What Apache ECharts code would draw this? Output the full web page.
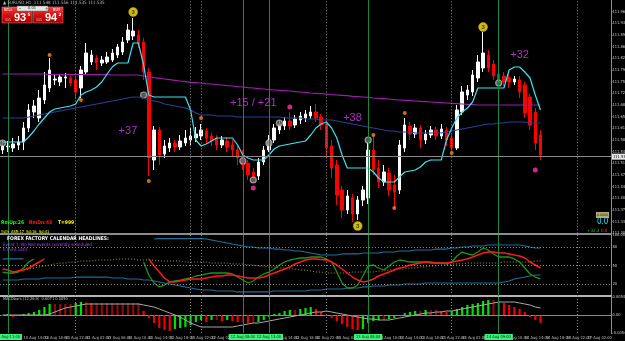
<!DOCTYPE html>
<html><head><meta charset="utf-8">
<script src="https://cdn.jsdelivr.net/npm/echarts@6/dist/echarts.min.js"></script>
<style>html,body{margin:0;padding:0;background:#000;overflow:hidden}#c{width:625px;height:341px;}</style>
</head><body><div id="c"></div>
<script>
// ---------- DATA ----------
const NSLOTS = 117;               // bar slots on the time axis (candles + right shift)
const dayNames = ['10 Aug','11 Aug','12 Aug','13 Aug','14 Aug','17 Aug'];
const firstHour = 10;             // first bar: 10 Aug 10:00 (H1)
const categories = [];
for (let i = 0; i < NSLOTS; i++) {
  const h = firstHour + i, d = Math.floor(h / 24), hh = h % 24;
  categories.push(dayNames[d] + ' ' + (hh < 10 ? '0' : '') + hh + ':00');
}
// candles: [open, close, low, high]
const candles = [
[111.550,111.562,111.538,111.580],[111.559,111.562,111.544,111.577],[111.556,111.568,111.544,111.586],[111.565,111.574,111.550,111.592],[111.574,111.616,111.550,111.634],
[111.616,111.670,111.604,111.688],[111.664,111.682,111.646,111.700],[111.646,111.706,111.634,111.730],[111.700,111.745,111.688,111.784],[111.736,111.790,111.724,111.826],
[111.760,111.763,111.745,111.778],[111.754,111.769,111.742,111.778],[111.766,111.769,111.736,111.781],[111.766,111.751,111.742,111.772],[111.760,111.724,111.703,111.769],
[111.736,111.790,111.706,111.802],[111.784,111.841,111.775,111.871],[111.814,111.835,111.805,111.850],[111.826,111.811,111.790,111.835],[111.811,111.820,111.802,111.832],
[111.814,111.829,111.808,111.844],[111.820,111.841,111.814,111.853],[111.835,111.859,111.826,111.868],[111.844,111.874,111.835,111.889],[111.880,111.910,111.871,111.928],
[111.892,111.907,111.880,111.946],[111.895,111.868,111.856,111.910],[111.874,111.784,111.760,111.886],[111.784,111.526,111.472,111.796],[111.520,111.610,111.490,111.622],
[111.610,111.535,111.505,111.619],[111.538,111.562,111.526,111.580],[111.556,111.571,111.544,111.586],[111.571,111.559,111.544,111.580],[111.559,111.577,111.550,111.595],
[111.571,111.586,111.562,111.610],[111.580,111.592,111.565,111.616],[111.586,111.598,111.574,111.619],[111.592,111.610,111.580,111.628],[111.607,111.586,111.571,111.616],
[111.592,111.577,111.562,111.601],[111.586,111.565,111.550,111.595],[111.565,111.580,111.556,111.592],[111.577,111.559,111.544,111.589],[111.565,111.550,111.532,111.580],
[111.550,111.526,111.505,111.562],[111.532,111.505,111.490,111.550],[111.511,111.475,111.460,111.520],[111.484,111.466,111.451,111.496],[111.472,111.514,111.460,111.526],
[111.514,111.550,111.505,111.562],[111.550,111.580,111.544,111.595],[111.580,111.616,111.571,111.628],[111.610,111.628,111.598,111.640],[111.622,111.637,111.610,111.649],
[111.637,111.622,111.610,111.664],[111.625,111.643,111.616,111.655],[111.640,111.652,111.628,111.664],[111.646,111.658,111.634,111.670],[111.652,111.664,111.643,111.682],
[111.664,111.646,111.634,111.688],[111.649,111.625,111.610,111.658],[111.628,111.556,111.526,111.640],[111.562,111.496,111.466,111.580],[111.505,111.415,111.385,111.520],
[111.430,111.370,111.346,111.442],[111.370,111.412,111.358,111.430],[111.406,111.358,111.334,111.418],[111.358,111.400,111.340,111.412],[111.400,111.430,111.382,111.442],
[111.406,111.550,111.388,111.571],[111.550,111.490,111.475,111.595],[111.496,111.454,111.436,111.520],[111.454,111.484,111.442,111.505],[111.481,111.430,111.412,111.496],
[111.445,111.424,111.376,111.475],[111.430,111.565,111.418,111.580],[111.556,111.625,111.544,111.646],[111.622,111.598,111.580,111.634],[111.598,111.616,111.586,111.628],
[111.616,111.580,111.556,111.625],[111.580,111.598,111.568,111.610],[111.595,111.610,111.586,111.622],[111.610,111.592,111.580,111.619],[111.592,111.613,111.583,111.628],
[111.610,111.580,111.562,111.619],[111.586,111.556,111.547,111.598],[111.556,111.670,111.550,111.685],[111.664,111.724,111.655,111.742],[111.715,111.730,111.700,111.745],
[111.724,111.775,111.712,111.790],[111.766,111.814,111.754,111.835],[111.796,111.841,111.784,111.904],[111.835,111.796,111.784,111.850],[111.808,111.772,111.760,111.820],
[111.778,111.754,111.736,111.790],[111.772,111.754,111.742,111.784],[111.766,111.754,111.736,111.778],[111.754,111.763,111.745,111.772],[111.760,111.724,111.706,111.772],
[111.745,111.661,111.646,111.754],[111.709,111.625,111.610,111.718],[111.664,111.571,111.550,111.676],[111.595,111.535,111.520,111.610]
];
const trailLine = [
111.574,111.574,111.574,111.574,111.574,111.589,111.607,111.628,111.646,111.664,
111.673,111.676,111.679,111.682,111.688,111.715,111.724,111.730,111.739,111.754,
111.778,111.799,111.811,111.811,111.811,111.871,111.871,111.805,111.715,111.709,
111.709,111.709,111.709,111.709,111.709,111.709,111.670,111.580,111.562,111.568,
111.577,111.586,111.586,111.586,111.586,111.565,111.535,111.526,111.520,111.520,
111.520,111.535,111.553,111.562,111.565,111.568,111.571,111.574,111.577,111.595,
111.616,111.628,111.634,111.616,111.586,111.535,111.496,111.496,111.496,111.496,
111.496,111.484,111.466,111.454,111.454,111.454,111.469,111.484,111.487,111.490,
111.499,111.514,111.520,111.520,111.520,111.580,111.616,111.646,111.664,111.676,
111.694,111.736,111.736,111.736,111.736,111.736,111.736,111.790,111.799,111.799,
111.784,111.766,111.715,111.670];
const slowMA = [
111.778,111.778,111.778,111.778,111.778,111.778,111.778,111.778,111.778,111.776,
111.776,111.776,111.776,111.776,111.776,111.776,111.776,111.776,111.776,111.776,
111.776,111.775,111.775,111.775,111.775,111.775,111.775,111.772,111.770,111.767,
111.765,111.763,111.761,111.759,111.757,111.755,111.753,111.752,111.751,111.749,
111.748,111.746,111.745,111.743,111.742,111.740,111.739,111.737,111.736,111.734,
111.733,111.731,111.730,111.729,111.728,111.727,111.725,111.724,111.723,111.721,
111.720,111.719,111.718,111.716,111.715,111.714,111.713,111.711,111.710,111.709,
111.708,111.706,111.705,111.704,111.703,111.701,111.700,111.699,111.698,111.697,
111.696,111.695,111.694,111.693,111.692,111.691,111.690,111.689,111.688,111.687,
111.686,111.685,111.685,111.685,111.685,111.685,111.685,111.685,111.685,111.685,
111.685,111.685,111.685,111.685];
const midMA = [
111.646,111.646,111.646,111.646,111.646,111.649,111.652,111.655,111.658,111.661,
111.664,111.667,111.670,111.673,111.676,111.679,111.682,111.685,111.688,111.691,
111.694,111.697,111.700,111.703,111.706,111.709,111.709,111.706,111.700,111.697,
111.694,111.688,111.685,111.682,111.679,111.676,111.670,111.661,111.655,111.655,
111.655,111.652,111.652,111.652,111.652,111.649,111.649,111.649,111.649,111.649,
111.649,111.649,111.649,111.649,111.646,111.646,111.646,111.646,111.643,111.643,
111.643,111.640,111.640,111.640,111.637,111.634,111.631,111.628,111.625,111.622,
111.619,111.616,111.613,111.610,111.607,111.607,111.604,111.604,111.604,111.601,
111.601,111.601,111.601,111.601,111.601,111.604,111.607,111.610,111.613,111.616,
111.619,111.622,111.625,111.628,111.628,111.631,111.631,111.634,111.634,111.634,
111.634,111.631,111.631,111.631];
// signal markers [bar, price]
const countMarks = [[25,111.964],[92,111.919],[68,111.322]];
const countText = ['3','3','3'];
const fractalMarks = [[9,111.835],[15,111.700],[28,111.457],[38,111.646],[71,111.595],[75,111.376],[77,111.661],[86,111.541]];
const pinkMarks = [[55,111.679],[48,111.436],[102,111.490]];
const ringMarks = [[0,111.571],[27,111.715],[46,111.517],[48,111.460],[51,111.571],[53,111.631],[70,111.580],[95,111.751]];
const noteBars = [24,48,67,99];
const notePrices = [111.607,111.691,111.646,111.835];
const noteTexts = ['+37','+15 / +21','+38','+32'];
const lastPrice = 111.535;
const dottedBars = [14,36,38,62,86,110];
const greenBars = [1,46,51,70,95];
// oscillator panel (0..100)
const upperBand = [
60.7,60.7,60.7,60.7,60.7,null,null,null,null,null,
null,null,null,null,null,null,null,null,null,null,
null,null,null,null,null,null,null,null,null,93.4,
94,94,94,94,94,94,94,94,94,93.4,
91.8,90.2,88.5,86.9,85.2,83.6,82,80.3,80.3,78.7,
78.7,78.7,77,77,75.4,75.4,73.8,73.8,72.1,70.5,
68.9,67.2,67.2,67.2,67.2,68.9,68.9,68.9,68.9,70.5,
70.5,70.5,70.5,72.1,72.1,72.1,73.8,73.8,73.8,75.4,
75.4,75.4,75.4,77,77,77,78.7,78.7,80.3,80.3,
82,82,82,83.6,83.6,83.6,83.6,83.6,83.6,83.6,
82,80.3,78.7,78.7];
const lowerBand = [
26.2,26.2,26.2,26.2,27.9,27.9,27.9,27.9,29.5,29.5,
29.5,29.5,29.5,29.5,31.1,31.1,31.1,31.1,31.1,31.1,
31.1,29.5,29.5,29.5,27.9,27.9,27.9,26.2,26.2,24.6,
23,21.3,19.7,18,16.4,14.8,13.1,11.5,9.8,9.8,
9.8,8.2,8.2,8.2,8.2,6.6,6.6,6.6,6.6,6.6,
6.6,6.6,8.2,8.2,8.2,8.2,8.2,8.2,8.2,9.8,
9.8,9.8,11.5,11.5,11.5,11.5,13.1,13.1,13.1,14.8,
14.8,16.4,16.4,16.4,18,18,18,19.7,19.7,19.7,
19.7,21.3,21.3,21.3,21.3,21.3,21.3,21.3,21.3,21.3,
21.3,21.3,21.3,21.3,21.3,21.3,23,24.6,27.9,29.5,
31.1,32.8,34.4,34.4];
const redLine = [
44.3,42.6,39.3,41,42.6,45.9,50.8,55.7,60.7,null,
null,null,null,null,null,null,null,null,null,null,
null,null,null,null,null,null,null,null,60.7,49.2,
39.3,29.5,23,23,24.6,26.2,27.9,27.9,27.9,29.5,
31.1,32.8,32.8,34.4,34.4,32.8,31.1,29.5,29.5,29.5,
31.1,34.4,37.7,41,44.3,47.5,52.5,55.7,59,60.7,
60.7,60,59,55.7,50.8,44.3,37.7,31.1,26.2,23,
24.6,27.9,32.8,36.1,39.3,42.6,45.9,47.5,50.8,52.5,
54.1,55.7,55.7,54.1,54.1,54.1,55.7,57.4,59,60.7,
63.9,67.2,70.5,72.1,72.1,70.5,70.5,68.9,67.2,65.6,
62.3,55.7,50.8,45.9];
const greenLine = [
39.3,37.7,37.7,39.3,45.9,55.7,60.7,null,null,null,
null,null,null,null,null,null,null,null,null,null,
null,null,null,null,null,null,null,55.7,34.4,21.3,
14.8,18,23,24.6,26.2,27.9,29.5,32.8,34.4,36.1,
37.7,37.7,37.7,37.7,36.1,31.1,26.2,21.3,24.6,31.1,
36.1,39.3,44.3,50.8,55.7,59,60.7,62.3,62.3,63.9,
63.9,63.9,60.7,55.7,39.3,21.3,13.1,13.1,18,32.8,
49.2,50.8,45.9,42.6,49.2,55.7,59,57.4,55.7,55.7,
55.7,55.7,54.1,54.1,54.1,52.5,55.7,65.6,72.1,68.9,
67.2,72.1,78.7,75.4,68.9,63.9,63.9,63.9,60.7,55.7,
45.9,36.1,31.1,27.9];
const oliveLine = [
null,null,null,41,42.6,44.3,45.9,47.5,49.2,50.8,
52.5,54.1,54.1,55.7,55.7,57.4,57.4,57.4,59,59,
59,59,60.7,60.7,60.7,60.7,59,59,59,59,
57.4,57.4,57.4,57.4,57.4,55.7,55.7,55.7,55.7,55.7,
54.1,54.1,54.1,54.1,52.5,52.5,52.5,50.8,50.8,49.2,
49.2,47.5,47.5,45.9,45.9,44.3,44.3,42.6,42.6,41,
39.3,39.3,37.7,37.7,37.7,37.7,37.7,39.3,39.3,39.3,
39.3,39.3,41,41,42.6,42.6,44.3,44.3,45.9,45.9,
47.5,47.5,49.2,49.2,50.8,50.8,52.5,52.5,52.5,54.1,
54.1,54.1,54.1,54.1,54.1,54.1,55.7,55.7,55.7,55.7,
55.7,55.7,57.4,57.4];
const oscLevels = [80,50,20];
// histogram panel
const histValues = [
-0.0003,0.0003,-0.0006,-0.0003,0.0003,0.0006,0.0009,0.0015,0.0024,0.0033,
0.0033,0.0033,0.0033,0.0033,0.0036,0.0039,0.0039,0.0036,0.0036,0.0036,
0.0036,0.0036,0.0036,0.0036,0.0036,0.0036,0.0036,0.0012,-0.0009,-0.0024,
-0.0039,-0.0045,-0.0048,-0.0042,-0.0039,-0.0036,-0.0030,-0.0021,-0.0015,-0.0021,
-0.0015,-0.0015,-0.0018,-0.0015,-0.0018,-0.0021,-0.0021,-0.0024,-0.0024,-0.0021,
-0.0015,-0.0006,0.0003,0.0006,0.0012,0.0015,0.0015,0.0018,0.0021,0.0024,
0.0018,0.0009,-0.0003,-0.0009,-0.0018,-0.0027,-0.0036,-0.0042,-0.0045,-0.0042,
-0.0024,-0.0018,-0.0015,-0.0015,-0.0012,-0.0009,-0.0003,0.0006,0.0009,0.0012,
0.0012,0.0015,0.0015,0.0015,0.0012,0.0009,0.0012,0.0018,0.0024,0.0030,
0.0033,0.0036,0.0042,0.0045,0.0045,0.0039,0.0036,0.0030,0.0024,0.0018,
0.0009,-0.0006,-0.0015,-0.0024];
const signalLine = [
0,0,0,0,0,0,0,0,0,0.0003,
0.0009,0.0015,0.0021,0.0024,0.0027,0.0030,0.0033,0.0033,0.0033,0.0033,
0.0033,0.0033,0.0033,0.0033,0.0033,0.0033,0.0033,0.0030,0.0027,0.0024,
0.0018,0.0012,0.0006,0,-0.0006,-0.0015,-0.0024,-0.0030,-0.0036,-0.0036,
-0.0036,-0.0036,-0.0036,-0.0036,-0.0036,-0.0033,-0.0030,-0.0027,-0.0024,-0.0024,
-0.0021,-0.0018,-0.0015,-0.0012,-0.0009,-0.0006,-0.0003,0,0.0003,0.0006,
0.0009,0.0009,0.0012,0.0009,0.0006,0.0003,0,-0.0003,-0.0006,-0.0009,
-0.0012,-0.0012,-0.0015,-0.0015,-0.0015,-0.0012,-0.0009,-0.0006,-0.0003,0,
0.0003,0.0006,0.0006,0.0009,0.0009,0.0012,0.0012,0.0015,0.0018,0.0021,
0.0024,0.0027,0.0030,0.0033,0.0036,0.0039,0.0039,0.0039,0.0039,0.0036,
0.0033,0.0030,0.0024,0.0021];

// ---------- CHART ----------
const NARROW = '"Liberation Sans Narrow","DejaVu Sans Condensed","Liberation Sans",sans-serif';
const chart = echarts.init(document.getElementById('c'), null, {renderer: 'canvas'});

function vlines(withLabels) {
  const d = [];
  dottedBars.forEach(i => d.push({xAxis: categories[i], lineStyle: {color: '#8a8a8a', type: [1, 2], width: 1}}));
  greenBars.forEach(i => d.push({
    xAxis: categories[i],
    lineStyle: {color: '#178a40', type: 'solid', width: 1},
    label: withLabels ? {show: true, position: 'start', formatter: categories[i], backgroundColor: '#3df07a',
      color: '#06300f', fontSize: 4, fontFamily: NARROW, padding: [1, 2, 1, 2], distance: 1} : {show: false}
  }));
  return d;
}
const mlBase = {symbol: ['none', 'none'], silent: true, animation: false, label: {show: false}};

const histData = histValues.map((v, i) => {
  const p = i > 0 ? histValues[i - 1] : v;
  const col = v > p ? '#00e000' : (v < p ? '#f00000' : '#8b0a0a');
  return {value: v, itemStyle: {color: col}};
});

const xBase = {type: 'category', data: categories, boundaryGap: true, axisTick: {show: false}, splitLine: {show: false}};
const yLab = {fontSize: 4, color: '#c8c8c8', margin: 1.5, fontFamily: NARROW};
const yBase = {type: 'value', position: 'right', splitLine: {show: false},
  axisLine: {show: true, lineStyle: {color: '#8c8c8c'}}, axisTick: {show: true, length: 1.5, lineStyle: {color: '#8c8c8c'}}};

function T(x, y, text, fill, size, weight, family) {
  return {type: 'text', x: x, y: y, silent: true, z: 100,
    style: {text: text, fill: fill, fontSize: size, fontWeight: weight || 'normal', fontFamily: family || NARROW, verticalAlign: 'top'}};
}
const redGrad = () => new echarts.graphic.LinearGradient(0, 0, 0, 1, [{offset: 0, color: '#f04040'}, {offset: 0.5, color: '#d41010'}, {offset: 1, color: '#a00000'}]);

const option = {
  backgroundColor: '#000000',
  animation: false,
  grid: [
    {left: 0, right: 14, top: 0, height: 233.33, outerBoundsMode: 'none'},
    {left: 0, right: 14, top: 235, height: 61, outerBoundsMode: 'none'},
    {left: 0, right: 14, top: 297, height: 36, outerBoundsMode: 'none'}
  ],
  xAxis: [
    Object.assign({}, xBase, {gridIndex: 0, axisLine: {show: true, lineStyle: {color: '#8c8c8c', width: 2}}, axisLabel: {show: false}}),
    Object.assign({}, xBase, {gridIndex: 1, axisLine: {show: true, lineStyle: {color: '#f0f0f0', width: 1.5}}, axisLabel: {show: false}}),
    Object.assign({}, xBase, {gridIndex: 2, axisLine: {show: true, lineStyle: {color: '#8c8c8c', width: 1}},
      axisLabel: {show: true, interval: (i) => i % 4 === 0, align: 'left', fontSize: 4, color: '#bdbdbd', margin: 2.5, fontFamily: NARROW,
        formatter: (v) => v.endsWith('00:00') ? v.slice(0, 6) + ' 2020' : v}})
  ],
  yAxis: [
    Object.assign({}, yBase, {gridIndex: 0, min: 111.3, max: 112.0, interval: 0.035,
      axisLabel: Object.assign({}, yLab, {showMaxLabel: false, formatter: (v) => v.toFixed(3)})}),
    Object.assign({}, yBase, {gridIndex: 1, min: 0, max: 100, interval: 10, axisTick: {show: false},
      axisLabel: Object.assign({}, yLab, {showMinLabel: false, formatter: (v) => ({100: '100.0000', 80: '80', 50: '50', 20: '20'})[v] || ''})}),
    Object.assign({}, yBase, {gridIndex: 2, min: -0.0054, max: 0.0054, interval: 0.0054,
      axisLabel: Object.assign({}, yLab, {formatter: (v) => Math.abs(v) < 1e-9 ? '0.00' : v.toFixed(4)})})
  ],
  series: [
    {type: 'candlestick', name: 'EURUSD', xAxisIndex: 0, yAxisIndex: 0, data: candles, barWidth: 3,
      itemStyle: {color: '#ffffff', color0: '#ff0000', borderColor: '#ffffff', borderColor0: '#ff0000', borderWidth: 1},
      markLine: Object.assign({}, mlBase, {data: vlines(false).concat([{
        yAxis: lastPrice, lineStyle: {color: '#8a8a8a', type: 'solid', width: 1},
        label: {show: true, position: 'end', formatter: lastPrice.toFixed(3), backgroundColor: '#e8e8e8', color: '#000', fontSize: 4,
          fontFamily: NARROW, padding: [1, 1, 1, 1], distance: 1}}])})},
    {type: 'line', name: 'slow', xAxisIndex: 0, yAxisIndex: 0, data: slowMA, showSymbol: false, lineStyle: {color: '#9a1fa6', width: 1.2}},
    {type: 'line', name: 'mid', xAxisIndex: 0, yAxisIndex: 0, data: midMA, showSymbol: false, lineStyle: {color: '#2b3f95', width: 1.2}},
    {type: 'line', name: 'trail', xAxisIndex: 0, yAxisIndex: 0, data: trailLine, showSymbol: false, lineStyle: {color: '#3fe3f0', width: 1.2}},
    {type: 'scatter', xAxisIndex: 0, yAxisIndex: 0, data: fractalMarks, symbolSize: 4, itemStyle: {color: '#ff8a1c'}},
    {type: 'scatter', xAxisIndex: 0, yAxisIndex: 0, data: pinkMarks, symbolSize: 5, itemStyle: {color: '#ff2fa8'}},
    {type: 'scatter', xAxisIndex: 0, yAxisIndex: 0, data: ringMarks, symbolSize: 6, itemStyle: {color: '#6a6a6a', borderColor: '#b8b8b8', borderWidth: 1.2}},
    {type: 'scatter', xAxisIndex: 0, yAxisIndex: 0, symbolSize: 9, itemStyle: {color: '#ffe81a', borderColor: '#c8a000', borderWidth: 0.6},
      data: countMarks.map((p, i) => ({value: p, label: {show: true, position: 'inside', formatter: countText[i], color: '#202000', fontSize: 6, fontWeight: 'bold'}}))},
    {type: 'scatter', xAxisIndex: 0, yAxisIndex: 0, symbolSize: 0, z: 20,
      data: noteBars.map((b, i) => ({value: [b, notePrices[i]], label: {show: true, position: 'inside', formatter: noteTexts[i],
        color: '#d23ef2', fontSize: 11, fontFamily: '"Liberation Sans",Arial,sans-serif'}}))},

    {type: 'line', name: 'upperBand', xAxisIndex: 1, yAxisIndex: 1, data: upperBand, showSymbol: false, lineStyle: {color: '#1d6f9e', width: 1.2},
      markLine: Object.assign({}, mlBase, {data: vlines(false).concat(oscLevels.map(l => ({yAxis: l, lineStyle: {color: '#8a8a8a', type: [1, 2], width: 1}})))})},
    {type: 'line', name: 'lowerBand', xAxisIndex: 1, yAxisIndex: 1, data: lowerBand, showSymbol: false, lineStyle: {color: '#1d6f9e', width: 1.2}},
    {type: 'line', name: 'olive', xAxisIndex: 1, yAxisIndex: 1, data: oliveLine, showSymbol: false, lineStyle: {color: '#a0a030', width: 1, type: [1, 2]}},
    {type: 'line', name: 'green', xAxisIndex: 1, yAxisIndex: 1, data: greenLine, showSymbol: false, lineStyle: {color: '#1c961c', width: 1.3}},
    {type: 'line', name: 'red', xAxisIndex: 1, yAxisIndex: 1, data: redLine, showSymbol: false, lineStyle: {color: '#ff1a1a', width: 1.5}},

    {type: 'bar', name: 'hist', xAxisIndex: 2, yAxisIndex: 2, data: histData, barWidth: 2.2,
      markLine: Object.assign({}, mlBase, {data: vlines(true).concat([{yAxis: 0, lineStyle: {color: '#8a8a8a', type: [1, 2], width: 1}}])})},
    {type: 'line', name: 'signal', xAxisIndex: 2, yAxisIndex: 2, data: signalLine, showSymbol: false, lineStyle: {color: '#a8a8a8', width: 1}}
  ],
  graphic: [
    T(3, 0, '\u25B2 EURUSD,H1  111.548 111.556 111.535 111.535', '#bdbdbd', 4.5),
    {type: 'rect', shape: {x: 2, y: 7, width: 30, height: 16}, style: {fill: redGrad(), stroke: '#ff8080', lineWidth: 0.5}, z: 99},
    {type: 'rect', shape: {x: 33, y: 7, width: 30, height: 16}, style: {fill: redGrad(), stroke: '#ff8080', lineWidth: 0.5}, z: 99},
    {type: 'rect', shape: {x: 17, y: 6, width: 31, height: 5}, style: {fill: '#e6e6e6', stroke: '#707070', lineWidth: 0.5}, z: 100},
    T(19, 6, '\u2013', '#202020', 4.5), T(45, 6, '+', '#202020', 4.5), T(28, 6.3, '0.01', '#202020', 4),
    T(4, 7.5, 'SELL', '#ffffff', 4), T(53, 7.5, 'BUY', '#ffffff', 4),
    T(5, 18, '111', '#ffdede', 3.5), T(36, 18, '111', '#ffdede', 3.5),
    T(14, 12, '93', '#ffffff', 11, 'bold', '"Liberation Sans",Arial,sans-serif'),
    T(27.5, 12.5, '5', '#ffffff', 4.5, 'bold'),
    T(45, 12, '94', '#ffffff', 11, 'bold', '"Liberation Sans",Arial,sans-serif'),
    T(58.5, 12.5, '2', '#ffffff', 4.5, 'bold'),
    T(1, 220, 'RmUp:26', '#19ff19', 5, 'bold'),
    T(29, 220, 'RmDn:43', '#ff2020', 5, 'bold'),
    T(58, 220, 'T=999', '#ffff1a', 5, 'bold'),
    T(1, 229.5, 'Ysth  ASR:17  Sd:16  Sd:41', '#ffff1a', 4),
    {type: 'rect', shape: {x: 596, y: 212, width: 13, height: 6}, style: {fill: '#b4ac6c'}, z: 99},
    T(597, 212.8, '0.0000', '#202020', 3.5),
    T(597, 218, '0.0', '#1ee6ff', 8),
    T(587, 228, '+32.3', '#19d919', 4.5), T(601, 228, '0.0', '#ff3030', 4.5),
    T(7, 236.5, 'FOREX FACTORY CALENDAR HEADLINES:', '#ffffff', 5, 'bold'),
    T(3, 242, 'Event 1: No Red events currently scheduled', '#a64bff', 4.5),
    T(3, 247, '0 mins until:', '#a64bff', 4.5),
    T(3, 297, 'MACDbars (12,26,9)  0.0071 0.0050', '#c0c0c0', 4)
  ]
};
chart.setOption(option);
</script>
</body></html>
